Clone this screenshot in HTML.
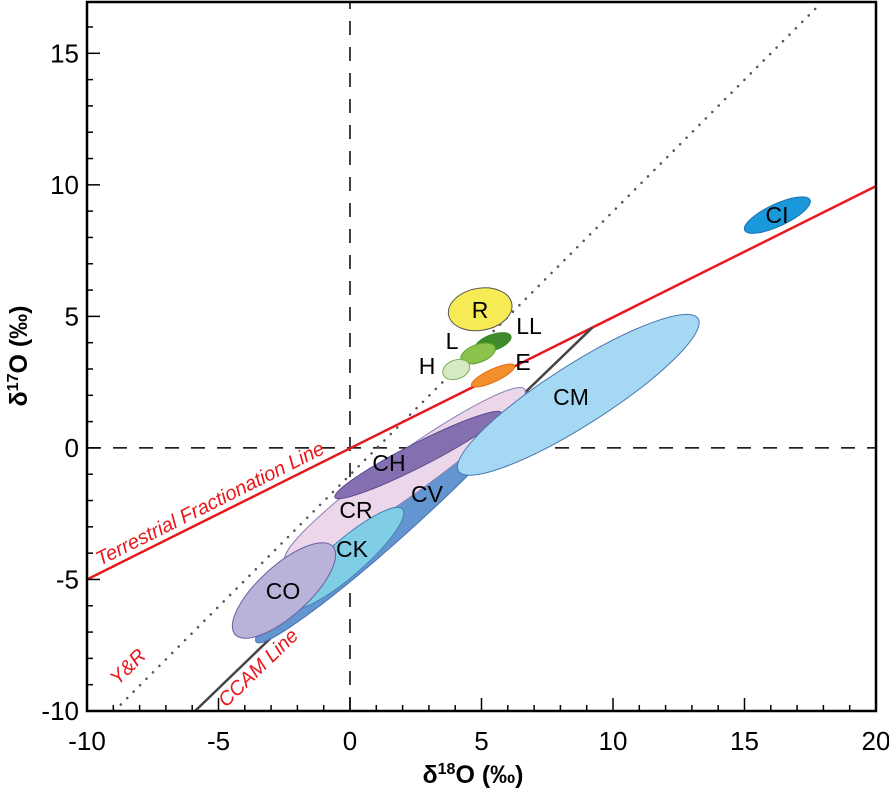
<!DOCTYPE html>
<html><head><meta charset="utf-8"><style>
html,body{margin:0;padding:0;background:#fff;}
svg{display:block;font-family:"Liberation Sans",Arial,sans-serif;}
</style></head><body>
<svg id="chart" width="889" height="795" viewBox="0 0 889 795" xmlns="http://www.w3.org/2000/svg"></svg>
<script>
const xTicks=[-10,-5,0,5,10,15,20];
const yTicks=[-10,-5,0,5,10,15];
const groupNames=["CV","CR","CH","CM","CK","CO","R","LL","L","H","E","CI"];
const groupCx=[1.71,2.09,2.59,8.68,-0.15,-2.51,4.95,5.44,4.87,4.04,5.44,16.25];
const groupCy=[-2.63,-1.03,-0.27,2.02,-4.2,-5.42,5.27,4.01,3.59,2.98,2.75,8.85];
const groupRx=[7.1,5.6,3.55,5.4,2.85,2.5,1.22,0.72,0.69,0.53,0.9,1.37];
const groupRy=[0.75,0.8,0.45,1.15,0.68,0.95,0.8,0.3,0.34,0.36,0.24,0.42];
const groupAngle=[42,35.6,27,32.5,41,42,10,20,20,20,25,25];
const tflLine=[[-10,-5.0],[20,9.95]];
const yrLine=[[-8.96,-10],[17.9,16.9]];
const ccamLine=[[-5.89,-10],[9.22,4.58]];

const X0=87,X1=876,Y0=711,Y1=2;
const xmin=-10,xmax=20,ymin=-10,ymax=16.95;
const sx=v=>X0+(v-xmin)*(X1-X0)/(xmax-xmin);
const sy=v=>Y0-(v-ymin)*(Y0-Y1)/(ymax-ymin);
const pxPerUnit=(X1-X0)/(xmax-xmin);
const NS="http://www.w3.org/2000/svg";
const svg=document.getElementById('chart');
function mk(tag,attrs,parent){const e=document.createElementNS(NS,tag);for(const k in attrs)e.setAttribute(k,attrs[k]);(parent||svg).appendChild(e);return e;}

const fills={CV:"#6396d0",CR:"#ecd6ea",CH:"#8470b0",CM:"#a5d9f3",CK:"#80cde6",CO:"#b9b2d9",R:"#f6eb55",LL:"#3f8a2a",L:"#8dc24c",H:"#d6e9c2",E:"#f2902e",CI:"#1a98da"};
const strokes={CV:"#4a74b0",CR:"#8a80b8",CH:"#5b4a90",CM:"#4a78b0",CK:"#4a80b8",CO:"#6a60a0",R:"#555",LL:"#3f8a2a",L:"#5aa030",H:"#7ab060",E:"#e06a10",CI:"#1a70b0"};

let z1=mk('line',{x1:sx(0),y1:Y0,x2:sx(0),y2:Y1,stroke:"#000","stroke-width":1.5,"stroke-dasharray":"14,12"});


let z2=mk('line',{x1:X0,y1:sy(0),x2:X1,y2:sy(0),stroke:"#000","stroke-width":1.5,"stroke-dasharray":"14,12"});



let yr=mk('line',{x1:sx(yrLine[0][0]),y1:sy(yrLine[0][1]),x2:sx(yrLine[1][0]),y2:sy(yrLine[1][1]),stroke:"#555","stroke-width":2.5,"stroke-dasharray":"0.1,9","stroke-linecap":"round"});


let tfl=mk('line',{x1:sx(tflLine[0][0]),y1:sy(tflLine[0][1]),x2:sx(tflLine[1][0]),y2:sy(tflLine[1][1]),stroke:"#e8171c","stroke-width":2.5});


let cc=mk('line',{x1:sx(ccamLine[0][0]),y1:sy(ccamLine[0][1]),x2:sx(ccamLine[1][0]),y2:sy(ccamLine[1][1]),stroke:"#444","stroke-width":2.5});



for(let i=0;i<groupNames.length;i++){
  const n=groupNames[i];
  const cx=sx(groupCx[i]),cy=sy(groupCy[i]);
  const e=mk('ellipse',{cx:cx,cy:cy,rx:groupRx[i]*pxPerUnit,ry:groupRy[i]*pxPerUnit,transform:`rotate(${-groupAngle[i]} ${cx} ${cy})`,fill:fills[n],stroke:strokes[n],"stroke-width":1});
  
  
}
const labelPos={CV:[427,496],CR:[356,512],CH:[389,465],CM:[571,399],CK:[352,551],CO:[283,593],R:[480,312],LL:[529,328],L:[452,343],H:[427,368],E:[523,364],CI:[777,217]};
for(const n of groupNames){
  const t=mk('text',{x:labelPos[n][0],y:labelPos[n][1],"font-size":23,"text-anchor":"middle","dominant-baseline":"middle",fill:"#000"});
  t.textContent=n;
  
  
}
function lineLabel(txt,x,y,ang,name){const t=mk('text',{x:x,y:y,"font-size":20,"font-style":"italic",fill:"#e8171c",transform:`rotate(${ang} ${x} ${y})`});t.textContent=txt;}
lineLabel("Terrestrial Fractionation Line",100,566,-26.6,'tfl-label');
lineLabel("Y&R",118,686,-45,'yr-label');
lineLabel("CCAM Line",226,708,-44,'ccam-label');

let fr=mk('rect',{x:X0,y:Y1,width:X1-X0,height:Y0-Y1,fill:"none",stroke:"#000","stroke-width":2.5});


for(let v=xmin;v<=xmax;v++){const maj=v%5===0;mk('line',{x1:sx(v),y1:Y0,x2:sx(v),y2:Y0-(maj?13:6),stroke:"#000","stroke-width":1.5});}
for(let v=ymin;v<=16;v++){const maj=v%5===0;mk('line',{x1:X0,y1:sy(v),x2:X0+(maj?13:6),y2:sy(v),stroke:"#000","stroke-width":1.5});}
for(const v of xTicks){const t=mk('text',{x:sx(v),y:Y0+39,"font-size":26,"text-anchor":"middle"});t.textContent=v;}
for(const v of yTicks){const t=mk('text',{x:X0-8,y:sy(v)+9,"font-size":26,"text-anchor":"end"});t.textContent=v;}
let xt=mk('text',{x:473,y:783,"font-size":25,"font-weight":"bold","text-anchor":"middle"});
xt.innerHTML='δ<tspan font-size="16" dy="-9">18</tspan><tspan dy="9">O (‰)</tspan>';


let yt=mk('text',{x:27,y:356,"font-size":25,"font-weight":"bold","text-anchor":"middle",transform:"rotate(-90 27 356)"});
yt.innerHTML='δ<tspan font-size="16" dy="-9">17</tspan><tspan dy="9">O (‰)</tspan>';


</script>
</body></html>
